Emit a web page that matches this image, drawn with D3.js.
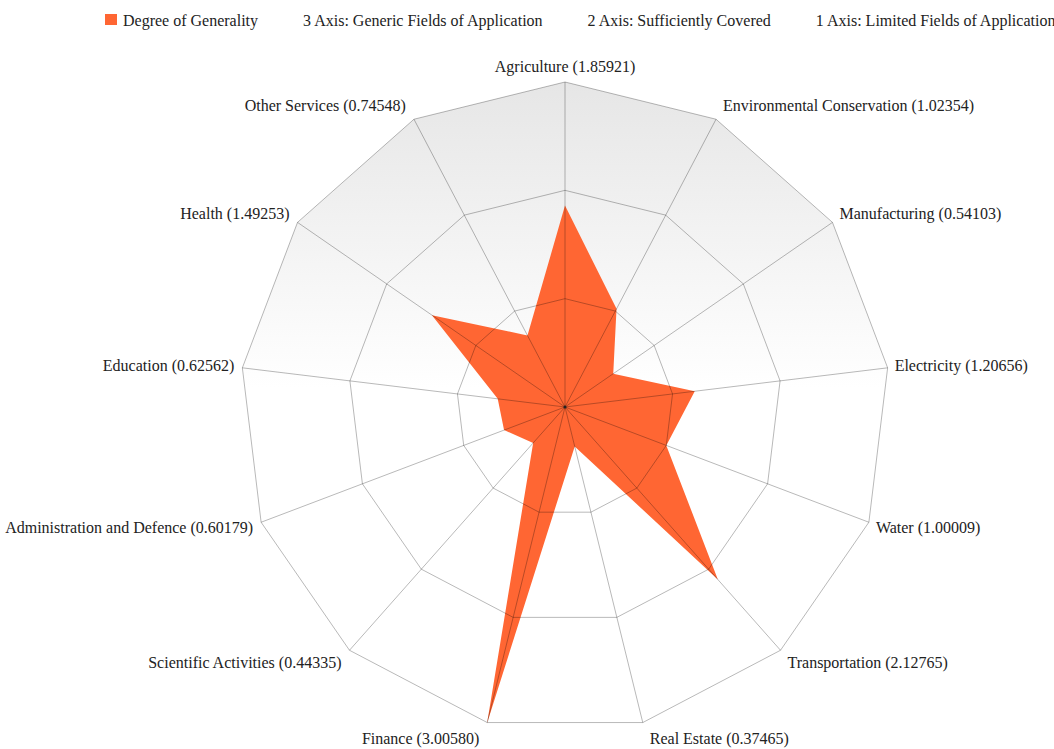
<!DOCTYPE html>
<html>
<head>
<meta charset="utf-8">
<script src="https://cdn.jsdelivr.net/npm/d3@7"></script>
<style>
  body { margin: 0; background: #fff; }
</style>
</head>
<body>
<div class="chart"></div>
<script>
//data
var sectors = ['Agriculture', 'Environmental Conservation', 'Manufacturing', 'Electricity',
  'Water', 'Transportation', 'Real Estate', 'Finance', 'Scientific Activities',
  'Administration and Defence', 'Education', 'Health', 'Other Services'];
var generality = [1.85921, 1.02354, 0.54103, 1.20656, 1.00009, 2.12765, 0.37465,
  3.00580, 0.44335, 0.60179, 0.62562, 1.49253, 0.74548];
var ringLevels = [1, 2, 3];
var legendLabels = ['Degree of Generality', '3 Axis: Generic Fields of Application',
  '2 Axis: Sufficiently Covered', '1 Axis: Limited Fields of Application'];

//canvas
var size = {'x' : 1054, 'y' : 749};
var center = {'x' : 565, 'y' : 407};
var radius = 325;
var fontFamily = 'Liberation Serif';
var fontSize = 16;

var svg = d3.select('.chart')
  .append('svg')
    .attr('width', size.x)
    .attr('height', size.y);

//scales
var rScale = d3.scaleLinear().domain([0, 3]).range([0, radius]);
var angle = d3.scaleLinear().domain([0, sectors.length]).range([0, 2 * Math.PI]);

//point on axis i at value v
var point = function(i, v){
  var a = angle(i);
  return [center.x + rScale(v) * Math.sin(a), center.y - rScale(v) * Math.cos(a)];
};

//background gradient
var defs = svg.append('defs');
var grad = defs.append('linearGradient')
  .attr('id', 'bg')
  .attr('gradientUnits', 'userSpaceOnUse')
  .attr('x1', 0).attr('y1', center.y - radius)
  .attr('x2', 0).attr('y2', center.y - 20);
grad.append('stop').attr('offset', '0%').attr('stop-color', '#e6e6e6');
grad.append('stop').attr('offset', '100%').attr('stop-color', '#ffffff');

var ringPath = function(level){
  return 'M' + sectors.map(function(d, i){ return point(i, level).join(','); }).join('L') + 'Z';
};

svg.append('path')
  .attr('d', ringPath(3))
  .attr('fill', 'url(#bg)');

//data polygon
svg.append('path')
  .datum(generality)
  .attr('d', function(d){
    return 'M' + d.map(function(v, i){ return point(i, v).join(','); }).join('L') + 'Z';
  })
  .attr('fill', '#ff6633');

//rings
svg.selectAll('.ring')
  .data(ringLevels)
  .enter()
  .append('path')
    .attr('class', 'ring')
    .attr('d', function(d){ return ringPath(d); })
    .attr('fill', 'none')
    .attr('stroke', '#000')
    .attr('stroke-opacity', 0.28)
    .attr('stroke-width', 1);

//spokes
svg.selectAll('.spoke')
  .data(sectors)
  .enter()
  .append('line')
    .attr('class', 'spoke')
    .attr('x1', center.x)
    .attr('y1', center.y)
    .attr('x2', function(d, i){ return point(i, 3)[0]; })
    .attr('y2', function(d, i){ return point(i, 3)[1]; })
    .attr('stroke', '#000')
    .attr('stroke-opacity', 0.28)
    .attr('stroke-width', 1);

svg.append('circle')
  .attr('cx', center.x)
  .attr('cy', center.y)
  .attr('r', 1.5)
  .attr('fill', '#222');

//axis labels
svg.selectAll('.label')
  .data(sectors)
  .enter()
  .append('text')
    .attr('class', 'label')
    .style('font-family', fontFamily)
    .style('font-size', fontSize + 'px')
    .attr('fill', '#222')
    .attr('dominant-baseline', 'central')
    .attr('text-anchor', function(d, i){
      var s = Math.sin(angle(i));
      return Math.abs(s) < 0.01 ? 'middle' : (s > 0 ? 'start' : 'end');
    })
    .attr('x', function(d, i){
      var s = Math.sin(angle(i));
      var p = point(i, 3);
      return Math.abs(s) < 0.01 ? p[0] : p[0] + (s > 0 ? 7 : -8);
    })
    .attr('y', function(d, i){
      return point(i, 3)[1] - 16 * Math.cos(angle(i));
    })
    .text(function(d, i){ return d + ' (' + generality[i].toFixed(5) + ')'; });

//legend
var legend = svg.append('g').attr('class', 'legend');
var lx = 105;
legendLabels.forEach(function(label, i){
  legend.append('rect')
    .attr('x', lx)
    .attr('y', 14)
    .attr('width', 12)
    .attr('height', 11)
    .attr('fill', i === 0 ? '#ff6633' : 'none');
  var t = legend.append('text')
    .attr('x', lx + 18)
    .attr('y', 20)
    .style('font-family', fontFamily)
    .style('font-size', fontSize + 'px')
    .attr('fill', '#222')
    .attr('dominant-baseline', 'central')
    .text(label);
  lx += 18 + t.node().getComputedTextLength() + 27;
});
</script>
</body>
</html>
